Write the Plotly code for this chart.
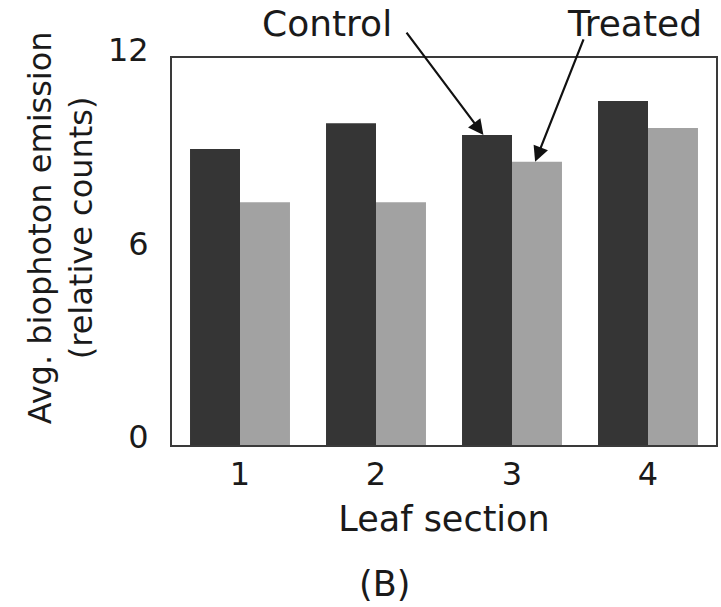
import plotly.graph_objects as go

sections = ["1", "2", "3", "4"]
control = [9.18, 9.98, 9.61, 10.67]
treated = [7.53, 7.53, 8.78, 9.83]
y_ticks = [0, 6, 12]

FONT = "DejaVu Sans, Liberation Sans, Arial, sans-serif"

fig = go.Figure()
fig.add_trace(go.Bar(x=sections, y=control, name="Control",
                     marker=dict(color="#353535", line=dict(width=0))))
fig.add_trace(go.Bar(x=sections, y=treated, name="Treated",
                     marker=dict(color="#a2a2a2", line=dict(width=0))))

fig.update_layout(
    width=721, height=607,
    margin=dict(l=172, r=5, t=58, b=162),
    paper_bgcolor="white", plot_bgcolor="white",
    barmode="group", bargap=0.265, bargroupgap=0,
    showlegend=False,
    font=dict(family=FONT, color="#1a1a1a", size=32),
)
fig.update_xaxes(
    type="category", range=[-0.5, 3.5],
    showline=True, mirror=True, linecolor="#3a3a3a", linewidth=2,
    showgrid=False, ticks="", ticklabelstandoff=0,
    tickfont=dict(size=32),
    title=dict(text="Leaf section", font=dict(size=35), standoff=14),
    automargin=False,
)
fig.update_yaxes(
    range=[0, 12], tickvals=y_ticks, ticktext=[str(v) for v in y_ticks],
    showline=True, mirror=True, linecolor="#3a3a3a", linewidth=2,
    showgrid=False, zeroline=False, ticks="", ticklabelstandoff=15,
    ticklabelshift=-8,
    tickfont=dict(size=32),
    automargin=False,
)

# y-axis title (placed as rotated text so it can sit slightly above centre)
fig.add_annotation(x=-0.205, y=0.561, xref="paper", yref="paper",
                   text="Avg. biophoton emission<br>(relative counts)",
                   textangle=-90, showarrow=False, font=dict(size=32),
                   xanchor="center", yanchor="middle")

# arrows pointing at the section-3 bars
fig.add_annotation(x=2 - 0.21, y=control[2], xref="x", yref="y", text="",
                   showarrow=True, arrowhead=2, arrowsize=1.4, arrowwidth=2.2,
                   arrowcolor="#111111", ax=-78, ay=-104, standoff=0)
fig.add_annotation(x=2 + 0.17, y=treated[2], xref="x", yref="y", text="",
                   showarrow=True, arrowhead=2, arrowsize=1.4, arrowwidth=2.2,
                   arrowcolor="#111111", ax=49, ay=-124, standoff=0)

fig.add_annotation(x=0.285, y=1.088, xref="paper", yref="paper", text="Control",
                   showarrow=False, font=dict(size=36), xanchor="center", yanchor="middle")
fig.add_annotation(x=0.851, y=1.088, xref="paper", yref="paper", text="Treated",
                   showarrow=False, font=dict(size=36), xanchor="center", yanchor="middle")
fig.add_annotation(x=0.3915, y=-0.359, xref="paper", yref="paper", text="(B)",
                   showarrow=False, font=dict(size=35), xanchor="center", yanchor="middle")

fig.write_html("out.html")
